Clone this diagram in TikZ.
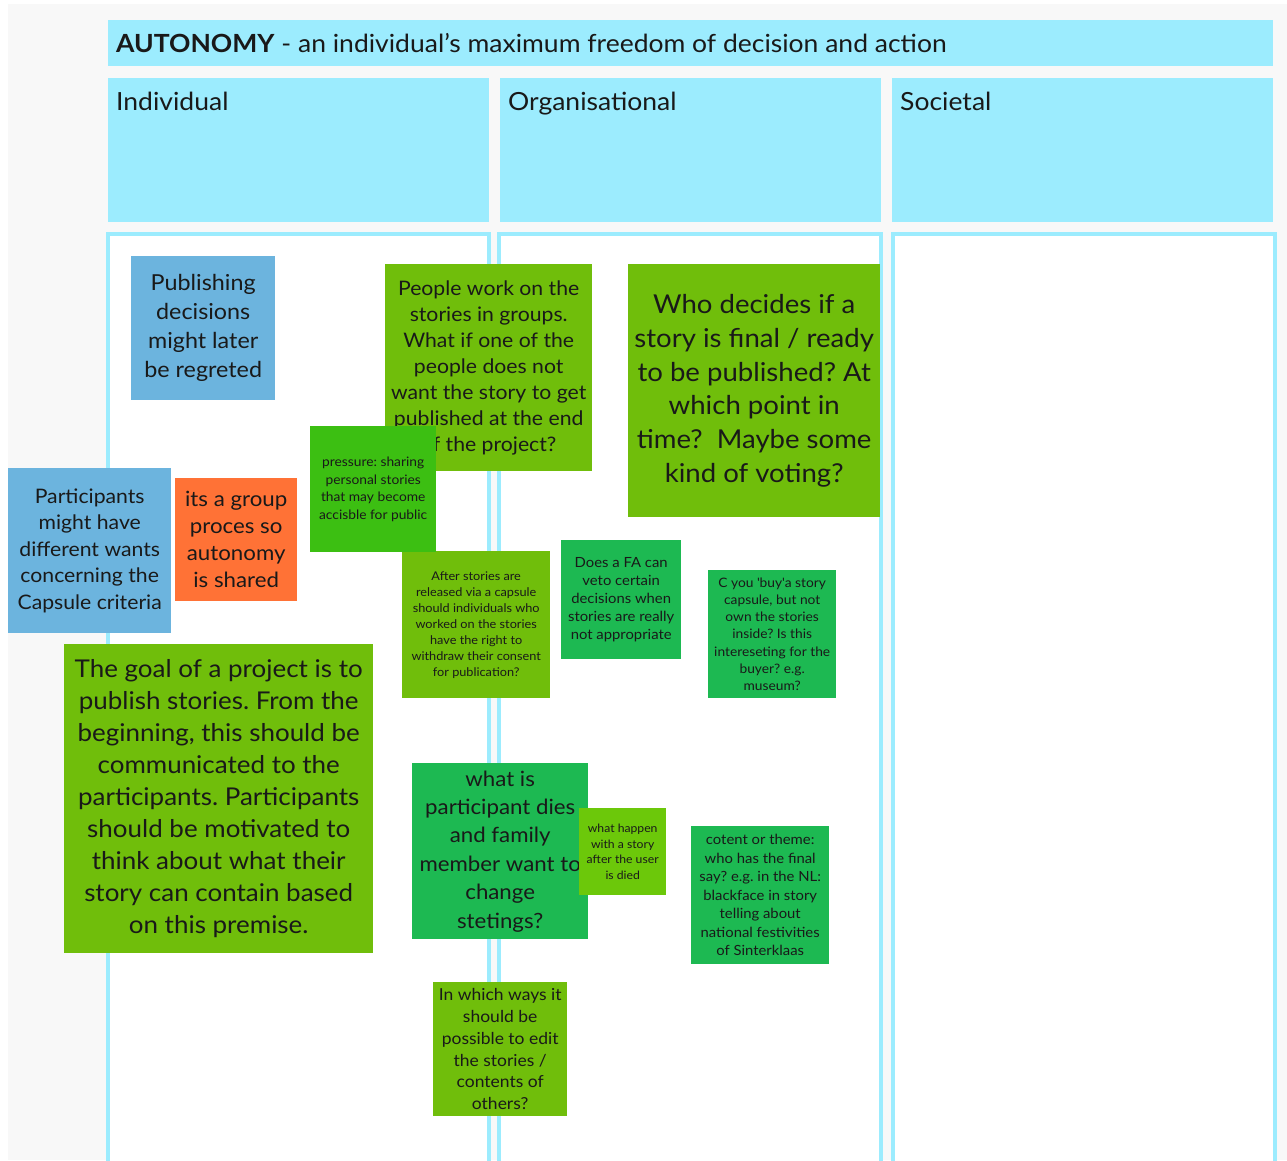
\documentclass[tikz,border=0pt]{standalone}
\usepackage{fontspec}
\setmainfont{Lato}[FakeStretch=1.06]
\usetikzlibrary{positioning}
\frenchspacing

\definecolor{sky}{HTML}{9CECFE}
\definecolor{canvas}{HTML}{F8F8F8}
\definecolor{notelime}{HTML}{70BE0B}
\definecolor{notegrass}{HTML}{3CBF12}
\definecolor{notegreen}{HTML}{1DB952}
\definecolor{notefresh}{HTML}{6CC80A}
\definecolor{noteblue}{HTML}{6CB4DE}
\definecolor{noteorange}{HTML}{FF7236}

\begin{document}
\begin{tikzpicture}[
    x=1pt, y=-1pt,
    every node/.style={text=black!90},
    band/.style={fill=sky, draw=none},
    colbody/.style={draw=sky, line width=4pt, fill=white},
    title/.style={anchor=base west, inner sep=0pt, font=\fontsize{25}{29}\selectfont},
    note/.style={anchor=north west, inner sep=0pt, align=center}
]
\clip (0,0) rectangle (1287,1160);
\fill[white] (0,0) rectangle (1287,1160);
\fill[canvas] (8,4) rectangle (1287,1160);

\fill[band] (108,20) rectangle (1273,66);
\node[title] (head) at (116,52) {\textbf{AUTONOMY} - an individual’s maximum freedom of decision and action};

\fill[band] (108,78) rectangle (489,222);
\fill[band] (500,78) rectangle (881,222);
\fill[band] (892,78) rectangle (1273,222);
\node[title] (indiv) at (116,110) {Individual};
\node[title] (organ) at (508,110) {Organisational};
\node[title] (societ) at (900,110) {Societal};

\draw[colbody] (108,234) rectangle (489,1200);
\draw[colbody] (499,234) rectangle (881,1200);
\draw[colbody] (893,234) rectangle (1275,1200);

\node[note, fill=noteblue, minimum width=144, minimum height=144, font=\fontsize{22}{29}\selectfont] (pub) at (131,256)
  {Publishing\\decisions\\might later\\be regreted};
\node[note, fill=notelime, minimum width=207, minimum height=207, font=\fontsize{20}{26}\selectfont] (work) at (385,264)
  {People work on the\\stories in groups.\\What if one of the\\people does not\\want the story to get\\published at the end\\of the project?};
\node[note, fill=notelime, minimum width=252, minimum height=253, font=\fontsize{26}{33.8}\selectfont] (decide) at (628,264)
  {Who decides if a\\story is final / ready\\to be published? At\\which point in\\time?~ Maybe some\\kind of voting?};
\node[note, fill=noteblue, minimum width=163, minimum height=165, font=\fontsize{20}{26.6}\selectfont] (wants) at (8,468)
  {Participants\\might have\\different wants\\concerning the\\Capsule criteria};
\node[note, fill=noteorange, minimum width=122, minimum height=123, font=\fontsize{21}{27}\selectfont] (group) at (175,478)
  {its a group\\proces so\\autonomy\\is shared};
\node[note, fill=notelime, minimum width=148, minimum height=147, font=\fontsize{12}{16}\selectfont] (release) at (402,551)
  {After stories are\\released via a capsule\\should individuals who\\worked on the stories\\have the right to\\withdraw their consent\\for publication?};
\node[note, fill=notegrass, minimum width=126, minimum height=126, font=\fontsize{13}{17.5}\selectfont] (pressure) at (310,426)
  {pressure: sharing\\personal stories\\that may become\\accisble for public};
\node[note, fill=notegreen, minimum width=120, minimum height=119, font=\fontsize{14}{18.2}\selectfont] (veto) at (561,540)
  {Does a FA can\\veto certain\\decisions when\\stories are really\\not appropriate};
\node[note, fill=notegreen, minimum width=128, minimum height=128, font=\fontsize{13}{17.2}\selectfont] (buy) at (708,570)
  {C you \textquotesingle buy\textquotesingle a story\\capsule, but not\\own the stories\\inside? Is this\\intereseting for the\\buyer? e.g.\\museum?};
\node[note, fill=notelime, minimum width=309, minimum height=309, font=\fontsize{24.5}{32}\selectfont] (goal) at (64,644)
  {The goal of a project is to\\publish stories. From the\\beginning, this should be\\communicated to the\\participants. Participants\\should be motivated to\\think about what their\\story can contain based\\on this premise.};
\node[note, fill=notegreen, minimum width=176, minimum height=176, font=\fontsize{21}{28.4}\selectfont] (dies) at (412,763)
  {what is\\participant dies\\and family\\member want to\\change\\stetings?};
\node[note, fill=notefresh, minimum width=87, minimum height=87, font=\fontsize{11.5}{15.5}\selectfont] (happen) at (579,808)
  {what happen\\with a story\\after the user\\is died};
\node[note, fill=notegreen, minimum width=138, minimum height=138, font=\fontsize{14}{18.5}\selectfont] (content) at (691,826)
  {cotent or theme:\\who has the final\\say? e.g. in the NL:\\blackface in story\\telling about\\national festivities\\of Sinterklaas};
\node[note, fill=notelime, minimum width=134, minimum height=134, font=\fontsize{16.5}{21.8}\selectfont] (edit) at (433,982)
  {In which ways it\\should be\\possible to edit\\the stories /\\contents of\\others?};
\end{tikzpicture}
\end{document}
